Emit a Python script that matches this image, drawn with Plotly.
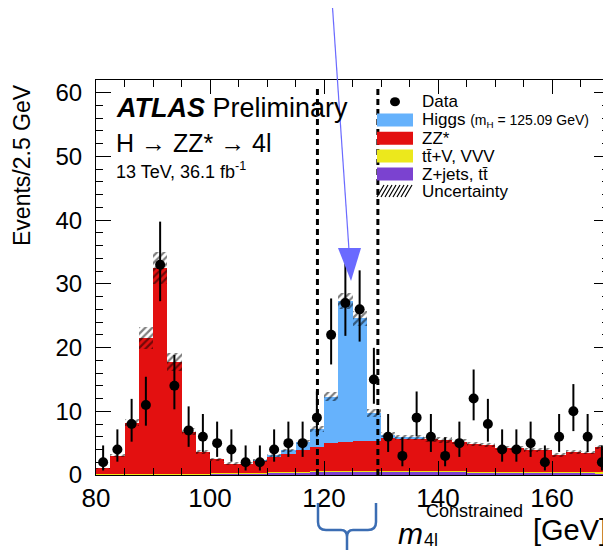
import numpy as np
import plotly.graph_objects as go

# m4l bins, 2.5 GeV wide, 80-170 GeV
bin_centers = [81.25, 83.75, 86.25, 88.75, 91.25, 93.75, 96.25, 98.75, 101.25, 103.75,
               106.25, 108.75, 111.25, 113.75, 116.25, 118.75, 121.25, 123.75, 126.25, 128.75,
               131.25, 133.75, 136.25, 138.75, 141.25, 143.75, 146.25, 148.75, 151.25, 153.75,
               156.25, 158.75, 161.25, 163.75, 166.25, 168.75]

data = [2, 4, 8, 11, 33, 14, 7, 6, 5, 4, 2, 2, 4, 5, 5, 9, 22, 27, 26, 15,
        6, 3, 9, 6, 3, 5, 12, 8, 4, 4, 5, 2, 6, 10, 6, 2]
data_err_lo = [1.29, 1.91, 2.77, 3.26, 5.72, 3.69, 2.58, 2.38, 2.16, 1.91, 1.29, 1.29, 1.91, 2.16, 2.16,
               2.94, 4.65, 5.16, 5.06, 3.82, 2.38, 1.63, 2.94, 2.38, 1.63, 2.16, 3.42, 2.77, 1.91, 1.91,
               2.16, 1.29, 2.38, 3.11, 2.38, 1.29]
data_err_hi = [2.64, 3.16, 3.95, 4.42, 6.77, 4.83, 3.77, 3.58, 3.38, 3.16, 2.64, 2.64, 3.16, 3.38, 3.38,
               4.11, 5.71, 6.22, 6.12, 4.96, 3.58, 2.92, 4.11, 3.58, 2.92, 3.38, 4.56, 3.95, 3.16, 3.16,
               3.38, 2.64, 3.58, 4.27, 3.58, 2.64]

zjets = [0.05, 0.05, 0.06, 0.08, 0.1, 0.1, 0.12, 0.14, 0.17, 0.2, 0.24, 0.28, 0.33, 0.38, 0.43, 0.48,
         0.52, 0.55, 0.57, 0.58, 0.58, 0.56, 0.54, 0.52, 0.5, 0.48, 0.46, 0.44, 0.42, 0.4, 0.38, 0.36,
         0.34, 0.33, 0.32, 0.31]
ttv = [0.07, 0.07, 0.07, 0.07, 0.08, 0.08, 0.08, 0.08, 0.08, 0.08, 0.08, 0.08, 0.08, 0.08, 0.08, 0.08,
       0.08, 0.08, 0.08, 0.08, 0.09, 0.09, 0.09, 0.09, 0.09, 0.09, 0.09, 0.09, 0.1, 0.1, 0.1, 0.1,
       0.1, 0.1, 0.1, 0.1]
zz = [0.92, 2.92, 8.11, 21.34, 32.32, 17.52, 6.6, 3.38, 2.2, 1.52, 1.48, 1.84, 2.49, 2.89, 3.39, 3.84,
      4.4, 4.57, 4.65, 4.74, 5.08, 5.15, 5.17, 4.99, 4.91, 4.63, 4.3, 4.17, 3.78, 3.7, 3.42, 3.54,
      2.66, 3.22, 3.08, 3.99]
higgs = [0, 0, 0, 0, 0, 0, 0, 0, 0, 0, 0, 0.05, 0.1, 0.5, 1.3, 2.8, 7.3, 22.1, 19.3, 4.3,
         0.55, 0.1, 0.05, 0, 0, 0, 0, 0, 0, 0, 0, 0, 0, 0, 0, 0]
uncert = [0.1, 0.25, 0.6, 1.7, 2.5, 1.4, 0.5, 0.3, 0.25, 0.2, 0.2, 0.2, 0.25, 0.3, 0.35, 0.45,
          0.7, 1.2, 1.2, 0.6, 0.4, 0.4, 0.4, 0.4, 0.4, 0.38, 0.36, 0.35, 0.33, 0.32, 0.3, 0.3,
          0.28, 0.28, 0.28, 0.3]

window_lo, window_hi = 118.85, 129.45

legend_labels = ['Data', 'Higgs', 'ZZ*', 'tt\u0304+V, VVV', 'Z+jets, tt\u0304', 'Uncertainty']

C_HIGGS = '#66b2fc'
C_ZZ = '#e31010'
C_TTV = '#ece81c'
C_ZJETS = '#7b42d0'
FONT = 'Liberation Sans'

# the page body has an 8px margin, so the figure sits at (8, 8) in the window
OFF = 8
W, H = 611 - OFF, 550 - OFF
PL, PR, PT, PB = 96, 609, 80, 475      # plot frame in window pixels


def px(xp):
    return (xp - PL) / (PR - PL)


def py(yp):
    return (PB - yp) / (PB - PT)


fig = go.Figure()

# stacked backgrounds + signal
stack = [(zjets, C_ZJETS), (ttv, C_TTV), (zz, C_ZZ), (higgs, C_HIGGS)]
base = np.zeros(len(bin_centers))
for vals, col in stack:
    fig.add_trace(go.Bar(x=bin_centers, y=vals, base=base.copy(), width=2.5,
                         marker=dict(color=col, line=dict(width=0)), showlegend=False))
    base = base + np.array(vals)

total = base
unc = np.array(uncert)
fig.add_trace(go.Bar(x=bin_centers, y=2 * unc, base=total - unc, width=2.5,
                     marker=dict(color='rgba(0,0,0,0)', line=dict(width=0),
                                 pattern=dict(shape='/', fgcolor='black', bgcolor='rgba(0,0,0,0)',
                                              size=5, solidity=0.45)),
                     showlegend=False))

# mass window
for xw in (window_lo, window_hi):
    fig.add_trace(go.Scatter(x=[xw, xw], y=[0, 60.8], mode='lines',
                             line=dict(color='black', width=3, dash='6px,4px'), showlegend=False))

fig.add_trace(go.Scatter(x=bin_centers, y=data, mode='markers',
                         marker=dict(color='black', size=10),
                         error_y=dict(type='data', array=data_err_hi, arrayminus=data_err_lo,
                                      width=0, thickness=2, color='black'),
                         showlegend=False))

shapes = []
annotations = []

# legend
rows = [101.7, 120, 138.3, 156, 174, 191]
shapes.append(dict(type='circle', xref='paper', yref='paper', x0=px(390), x1=px(400),
                   y0=py(rows[0] + 4.5), y1=py(rows[0] - 4.5), fillcolor='black', line=dict(width=0)))
for r, col in zip(rows[1:5], [C_HIGGS, C_ZZ, C_TTV, C_ZJETS]):
    shapes.append(dict(type='rect', xref='paper', yref='paper', x0=px(377), x1=px(413),
                       y0=py(r + 6.5), y1=py(r - 6.5), fillcolor=col, line=dict(width=0)))
hatch = ''
for x0 in range(377, 408, 4):
    hatch += 'M %.4f %.4f L %.4f %.4f ' % (px(x0), py(rows[5] + 6), px(x0 + 7), py(rows[5] - 6))
shapes.append(dict(type='path', xref='paper', yref='paper', path=hatch,
                   line=dict(color='black', width=1.2)))

for i, (r, lab) in enumerate(zip(rows, legend_labels)):
    txt = lab
    if i == 1:
        txt = lab + ' <span style="font-size:14px">(m<sub>H</sub> = 125.09 GeV)</span>'
    annotations.append(dict(x=px(420), y=py(r), xref='paper', yref='paper', text=txt,
                            xanchor='left', yanchor='middle', showarrow=False,
                            font=dict(family=FONT, size=17, color='black')))

# ATLAS labels
annotations.append(dict(x=px(114), y=py(108), xref='paper', yref='paper',
                        text='<b><i>ATLAS</i></b> Preliminary', xanchor='left', yanchor='middle',
                        showarrow=False, font=dict(family=FONT, size=27, color='black')))
annotations.append(dict(x=px(114), y=py(143), xref='paper', yref='paper',
                        text='H \u2192 ZZ* \u2192 4l', xanchor='left', yanchor='middle',
                        showarrow=False, font=dict(family=FONT, size=25, color='black')))
annotations.append(dict(x=px(114), y=py(170), xref='paper', yref='paper',
                        text='13 TeV, 36.1 fb<sup>-1</sup>', xanchor='left', yanchor='middle',
                        showarrow=False, font=dict(family=FONT, size=18, color='black')))

# axis titles
annotations.append(dict(x=px(22), y=py(82), xref='paper', yref='paper', text='Events/2.5 GeV',
                        textangle=-90, xanchor='center', yanchor='top', showarrow=False,
                        font=dict(family=FONT, size=23, color='black')))
annotations.append(dict(x=px(396), y=py(533), xref='paper', yref='paper', text='<i>m</i>',
                        xanchor='left', yanchor='middle', showarrow=False,
                        font=dict(family=FONT, size=30, color='black')))
annotations.append(dict(x=px(424), y=py(511), xref='paper', yref='paper', text='Constrained',
                        xanchor='left', yanchor='middle', showarrow=False,
                        font=dict(family=FONT, size=18, color='black')))
annotations.append(dict(x=px(422), y=py(540), xref='paper', yref='paper', text='4l',
                        xanchor='left', yanchor='middle', showarrow=False,
                        font=dict(family=FONT, size=18, color='black')))
annotations.append(dict(x=px(609), y=py(530), xref='paper', yref='paper', text='[GeV]',
                        xanchor='right', yanchor='middle', showarrow=False,
                        font=dict(family=FONT, size=29, color='black')))

# arrow pointing at the signal peak
shapes.append(dict(type='line', xref='paper', yref='paper', x0=px(332), y0=py(0),
                   x1=px(349), y1=py(250), line=dict(color='#6a6aff', width=1.2)))
shapes.append(dict(type='path', xref='paper', yref='paper',
                   path='M %.4f %.4f L %.4f %.4f L %.4f %.4f Z' % (px(338), py(248), px(361), py(248),
                                                                 px(351), py(281)),
                   fillcolor='#6a6aff', line=dict(width=0)))

# brace under the mass window
bl, br, bc = 318, 376, 347
bp = ('M {a} {t} L {a} {m} Q {a} {h} {a2} {h} L {c1} {h} Q {c} {h} {c} {s} L {c} {e} '
      'M {c} {s} Q {c} {h} {c2} {h} L {b2} {h} Q {b} {h} {b} {m} L {b} {t}').format(
    a=px(bl), a2=px(bl + 8), b=px(br), b2=px(br - 8), c=px(bc), c1=px(bc - 6), c2=px(bc + 6),
    t=py(503), m=py(522), h=py(530), s=py(537), e=py(555))
shapes.append(dict(type='path', xref='paper', yref='paper', path=bp,
                   line=dict(color='#3b6db3', width=2.5)))

fig.update_layout(
    width=W, height=H,
    margin=dict(l=PL - OFF, r=W - (PR - OFF), t=PT - OFF, b=H - (PB - OFF), autoexpand=False),
    barmode='overlay', bargap=0,
    plot_bgcolor='white', paper_bgcolor='white',
    shapes=shapes, annotations=annotations,
    showlegend=False,
)
fig.update_xaxes(range=[80, 170], tick0=80, dtick=20, ticks='inside', ticklen=14, tickwidth=1,
                 tickcolor='black', minor=dict(dtick=5, ticklen=7, ticks='inside', tickcolor='black'),
                 showline=True, linecolor='black', linewidth=1, mirror='allticks',
                 showgrid=False, zeroline=False, automargin=False,
                 tickfont=dict(family=FONT, size=26, color='black'))
fig.update_yaxes(range=[0, 62], tick0=0, dtick=10, ticks='inside', ticklen=15, tickwidth=1,
                 tickcolor='black', minor=dict(dtick=2, ticklen=7, ticks='inside', tickcolor='black'),
                 showline=True, linecolor='black', linewidth=1, mirror='allticks',
                 showgrid=False, zeroline=False, ticklabelstandoff=8, automargin=False,
                 tickfont=dict(family=FONT, size=24, color='black'))

fig.write_html("out.html")
